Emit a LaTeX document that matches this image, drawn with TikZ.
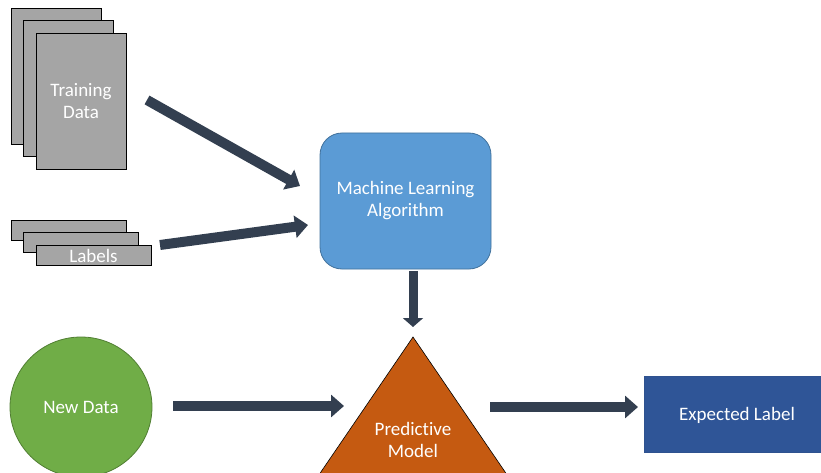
\documentclass[tikz,border=0pt]{standalone}
\usepackage{fontspec}
\setmainfont[RawFeature={-liga}]{Carlito}
\usetikzlibrary{arrows.meta,shapes.geometric}
\definecolor{sheetgray}{HTML}{A5A5A5}
\definecolor{flowc}{HTML}{333F50}
\definecolor{mlfill}{HTML}{5B9BD5}
\definecolor{mledge}{HTML}{41719C}
\definecolor{modelfill}{HTML}{C55A11}
\definecolor{newfill}{HTML}{70AD47}
\definecolor{newedge}{HTML}{507E32}
\definecolor{outfill}{HTML}{2F5597}
\definecolor{outedge}{HTML}{2F528F}
\begin{document}
\begin{tikzpicture}[x=1pt,y=-1pt,
  lbl/.style={text=white, font=\fontsize{19}{22}\selectfont, align=center},
  sheet/.style={draw=black, line width=0.8pt, fill=sheetgray, inner sep=0pt},
  bigsheet/.style={sheet, minimum width=90pt, minimum height=136pt},
  smallsheet/.style={sheet, minimum width=115pt, minimum height=20pt},
  flow/.style={draw=flowc, line width=10pt, -{Triangle[length=13pt,width=22pt]}}]
\useasboundingbox (0,0) rectangle (821,473);
\clip (0,0) rectangle (821,473);

% stacked training sheets
\node[bigsheet] (td1) at (56,76) {};
\node[bigsheet] (td2) at (68.5,88.5) {};
\node[bigsheet, lbl] (td3) at (81,101) {Training\\Data};

% stacked label strips
\node[smallsheet] (lb1) at (68.5,230) {};
\node[smallsheet] (lb2) at (80.5,242.5) {};
\node[smallsheet, lbl] (lb3) at (93.5,255.5) {Labels};

% learning algorithm
\node[draw=mledge, line width=0.8pt, fill=mlfill, rounded corners=22pt,
      minimum width=171pt, minimum height=136pt, lbl] (ml) at (405.5,201) {Machine Learning\\Algorithm};

% predictive model triangle
\coordinate (apex) at (413,337);
\filldraw[fill=modelfill, draw=black, line width=0.6pt]
  (apex) -- (308.6,490) -- (517.4,490) -- cycle;
\node[lbl] (pm) at (413,440) {Predictive\\Model};

% new data
\node[ellipse, draw=newedge, line width=0.8pt, fill=newfill,
      minimum width=142pt, minimum height=140pt, lbl] (nd) at (81,407) {New Data};

% expected label
\node[draw=outedge, line width=0.8pt, fill=outfill,
      minimum width=186pt, minimum height=76pt] (el) at (737,414) {};
\node[lbl] (eltext) at (737,415) {Expected Label};

% flow arrows
\coordinate (a1s) at (147,100);  \coordinate (a1e) at (300,186);
\coordinate (a2s) at (160,245);  \coordinate (a2e) at (308,225);
\coordinate (a3s) at (413,271);  \coordinate (a3e) at (413,327);
\coordinate (a4s) at (173,406);  \coordinate (a4e) at (344,406);
\coordinate (a5s) at (490,407);  \coordinate (a5e) at (638,407);
\draw[flow] (a1s) -- (a1e);
\draw[flow] (a2s) -- (a2e);
\draw[flow, line width=9pt, -{Triangle[length=9pt,width=20pt]}] (a3s) -- (a3e);
\draw[flow] (a4s) -- (a4e);
\draw[flow] (a5s) -- (a5e);
\end{tikzpicture}
\end{document}
